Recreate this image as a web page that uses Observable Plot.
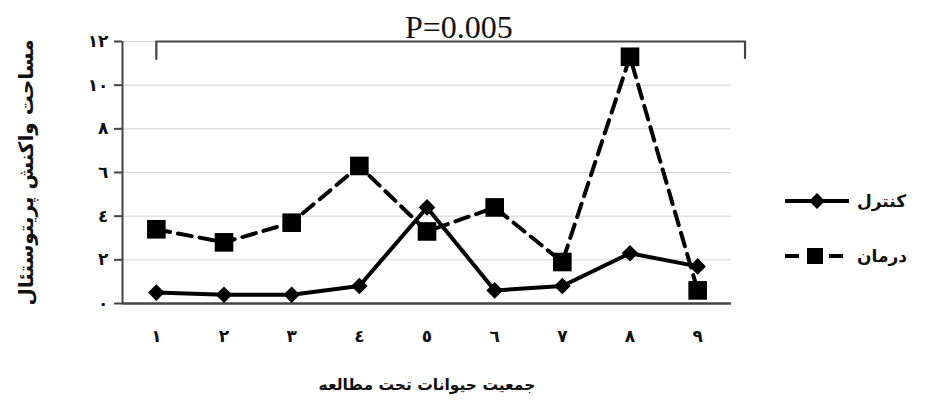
<!DOCTYPE html>
<html>
<head>
<meta charset="utf-8">
<script src="https://cdn.jsdelivr.net/npm/d3@7"></script>
<script src="https://cdn.jsdelivr.net/npm/@observablehq/plot@0.6"></script>
<style>
  html, body { margin: 0; padding: 0; background: #fff; }
  #wrap { position: relative; width: 925px; height: 410px; }
  .legend { position: absolute; left: 783px; font-family: "DejaVu Sans", sans-serif; font-weight: bold; font-size: 17px; color: #111; display: flex; align-items: center; gap: 6px; direction: ltr; }
</style>
</head>
<body>
<div id="wrap"></div>
<script>
const groups = [1, 2, 3, 4, 5, 6, 7, 8, 9];
const control = [0.5, 0.4, 0.4, 0.8, 4.4, 0.6, 0.8, 2.3, 1.7];
const treatment = [3.4, 2.8, 3.7, 6.3, 3.3, 4.4, 1.9, 11.3, 0.6];
const yTicks = [0, 2, 4, 6, 8, 10, 12];
const seriesNames = ["کنترل", "درمان"];
const xLabel = "جمعیت حیوانات تحت مطالعه";
const yLabel = "مساحت واکنش پریتوستئال";
const pText = "P=0.005";
const bracketX = [1, 1, 9.7, 9.7];
const bracketY = [11.2, 12, 12, 11.25];

const ar = n => String(n).replace(/[0-9]/g, d => "٠١٢٣٤٥٦٧٨٩"[d]);

const ctrl = groups.map((g, i) => ({g, v: control[i]}));
const trt = groups.map((g, i) => ({g, v: treatment[i]}));
const bracket = bracketX.map((x, i) => ({x, y: bracketY[i]}));

const plot = Plot.plot({
  width: 925,
  height: 410,
  marginLeft: 122,
  marginRight: 194,
  marginTop: 41,
  marginBottom: 107,
  style: {fontFamily: "DejaVu Sans, sans-serif", fontWeight: "bold", color: "#111", background: "#fff"},
  x: {domain: [0.5, 9.5]},
  y: {domain: [0, 12]},
  marks: [
    Plot.ruleY(yTicks.filter(d => d > 0), {stroke: "#d4d4d4", strokeWidth: 1}),
    Plot.axisY({ticks: yTicks, tickFormat: ar, tickSize: 8, tickPadding: 6, fontSize: 17, stroke: "#444", strokeWidth: 2, label: null}),
    Plot.axisX({ticks: groups, tickFormat: ar, tickSize: 0, tickPadding: 26, fontSize: 17, label: null}),
    Plot.text([yLabel], {frameAnchor: "left", rotate: -90, dx: -96, textAnchor: "middle", fontSize: 20, fill: "#111"}),
    Plot.text([xLabel], {frameAnchor: "bottom", dy: 86, textAnchor: "middle", fontSize: 15.5, fill: "#111"}),
    Plot.ruleX([0.5], {stroke: "#444", strokeWidth: 2}),
    Plot.ruleY([0], {stroke: "#444", strokeWidth: 2.5}),
    Plot.line(bracket, {x: "x", y: "y", stroke: "#444", strokeWidth: 2.2, curve: "linear"}),
    Plot.text([pText], {x: (bracketX[0] + bracketX[2]) / 2 + 0.12, y: 12, dy: -4, lineAnchor: "bottom", textAnchor: "middle",
      fontFamily: "Liberation Serif, serif", fontWeight: "normal", fontSize: 32, fill: "#111"}),
    Plot.line(trt, {x: "g", y: "v", stroke: "#000", strokeWidth: 4, strokeDasharray: "14,8"}),
    Plot.line(ctrl, {x: "g", y: "v", stroke: "#000", strokeWidth: 4}),
    Plot.dot(trt, {x: "g", y: "v", symbol: "square", r: 10.5, fill: "#000", stroke: "none"}),
    Plot.dot(ctrl, {x: "g", y: "v", symbol: "diamond2", r: 7.5, fill: "#000", stroke: "none"})
  ]
});
const wrap = document.getElementById("wrap");
wrap.appendChild(plot);

const legendSvg = [
  `<svg width="68" height="20"><line x1="2" y1="10" x2="66" y2="10" stroke="#000" stroke-width="4"/><path d="M34,2 L42,10 L34,18 L26,10 Z" fill="#000"/></svg>`,
  `<svg width="68" height="20"><line x1="2" y1="10" x2="66" y2="10" stroke="#000" stroke-width="4" stroke-dasharray="14,8"/><rect x="24" y="2" width="16" height="16" fill="#000"/></svg>`
];
const tops = [191, 246];
seriesNames.forEach((name, i) => {
  const d = document.createElement("div");
  d.className = "legend";
  d.style.top = tops[i] + "px";
  d.innerHTML = legendSvg[i] + `<span>${name}</span>`;
  wrap.appendChild(d);
});
</script>
</body>
</html>
